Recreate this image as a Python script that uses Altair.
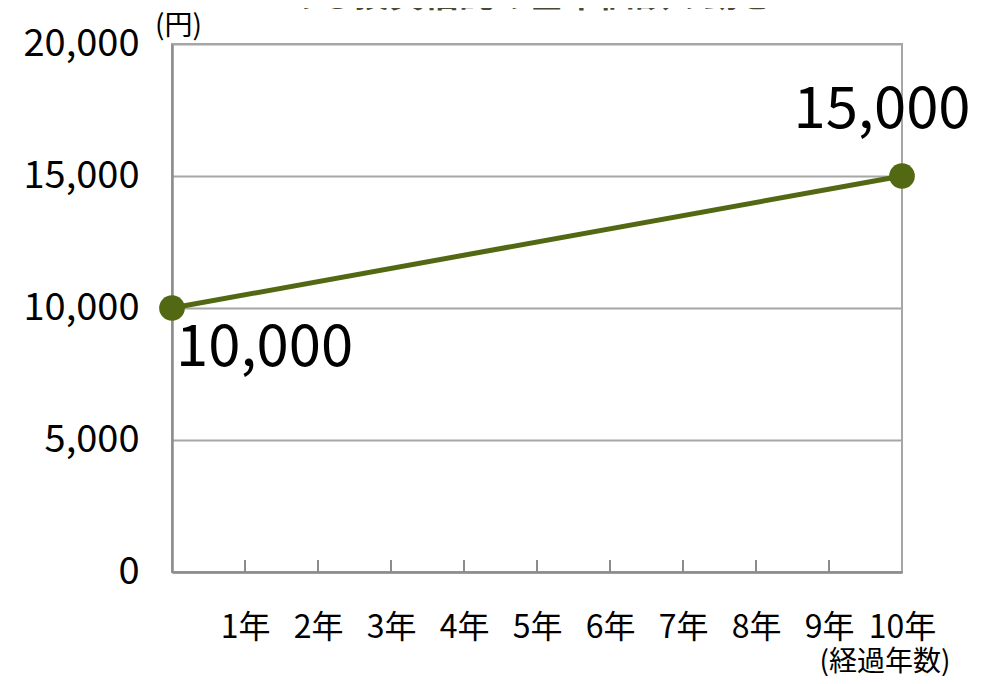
import altair as alt
import pandas as pd

years = [0, 10]
values = [10000, 15000]
value_labels = ["10,000", "15,000"]
tick_years = [1, 2, 3, 4, 5, 6, 7, 8, 9]
x_label_years = [1, 2, 3, 4, 5, 6, 7, 8, 9, 10]
y_ticks = [0, 5000, 10000, 15000, 20000]
title_text = "＜ある投資信託の基準価額の動き＞"
y_unit = "(円)"
x_unit = "(経過年数)"

FONT = "Noto Sans CJK JP"
LINE_COLOR = "#526812"
AXIS_COLOR = "#8c8c8c"
GRID_COLOR = "#a6a6a6"
W, H = 730, 528

df = pd.DataFrame({"year": years, "value": values, "label": value_labels})
ticks_df = pd.DataFrame({"year": tick_years})

xscale = alt.Scale(domain=[0, 10], nice=False)
yscale = alt.Scale(domain=[0, 20000], nice=False)

x_axis = alt.Axis(
    values=x_label_years, labelExpr="datum.value + '年'", title=None,
    grid=False, ticks=False, tickSize=0, labelPadding=55,
    labelBaseline="middle", labelFont=FONT, labelFontSize=32,
    labelColor="#000000", domainColor=AXIS_COLOR, domainWidth=2.5,
    labelFlush=False, labelOverlap=False,
)
y_axis = alt.Axis(
    values=y_ticks, format=",.0f", title=None, grid=True, gridColor=GRID_COLOR,
    gridWidth=1.8, ticks=False, tickSize=0, labelPadding=33,
    labelFont=FONT, labelFontSize=38, labelColor="#000000",
    domainColor=AXIS_COLOR, domainWidth=2.5, labelFlush=False,
    labelOverlap=False,
)

base = alt.Chart(df)

line = base.mark_line(color=LINE_COLOR, strokeWidth=5).encode(
    x=alt.X("year:Q", scale=xscale, axis=x_axis),
    y=alt.Y("value:Q", scale=yscale, axis=y_axis),
)
points = base.mark_point(filled=True, shape="circle", size=660, color=LINE_COLOR, opacity=1).encode(
    x=alt.X("year:Q", scale=xscale), y=alt.Y("value:Q", scale=yscale)
)

ticks = alt.Chart(ticks_df).mark_rule(color=AXIS_COLOR, strokeWidth=2).encode(
    x=alt.X("year:Q", scale=xscale), y=alt.value(H), y2=alt.value(H - 12)
)

lbl_start = alt.Chart(df[df.year == 0]).mark_text(
    align="left", baseline="middle", dx=4, dy=41, font=FONT, fontSize=58, color="#000000"
).encode(x=alt.X("year:Q", scale=xscale), y=alt.Y("value:Q", scale=yscale), text="label:N")

lbl_end = alt.Chart(df[df.year == 10]).mark_text(
    align="center", baseline="middle", dx=-20, dy=-65, font=FONT, fontSize=58, color="#000000"
).encode(x=alt.X("year:Q", scale=xscale), y=alt.Y("value:Q", scale=yscale), text="label:N")

title = alt.Chart(pd.DataFrame({"t": [title_text]})).mark_text(
    align="center", baseline="alphabetic", font=FONT, fontSize=35, fontWeight="bold", color="#4a4733"
).encode(x=alt.value(357), y=alt.value(-37.5), text="t:N")

yunit = alt.Chart(pd.DataFrame({"t": [y_unit]})).mark_text(
    align="center", baseline="middle", font=FONT, fontSize=28, color="#000000"
).encode(x=alt.value(6.5), y=alt.value(-17), text="t:N")

xunit = alt.Chart(pd.DataFrame({"t": [x_unit]})).mark_text(
    align="center", baseline="middle", font=FONT, fontSize=28, color="#000000"
).encode(x=alt.value(713), y=alt.value(619), text="t:N")

chart = alt.layer(line, ticks, points, lbl_start, lbl_end, title, yunit, xunit).properties(
    width=W, height=H,
    autosize=alt.AutoSizeParams(type="none"),
    padding={"left": 164, "top": 36, "right": 76, "bottom": 104},
    background="#ffffff",
).configure_view(stroke=GRID_COLOR, strokeWidth=2)

chart.save("out.html", embed_options={"renderer": "svg", "actions": False})
